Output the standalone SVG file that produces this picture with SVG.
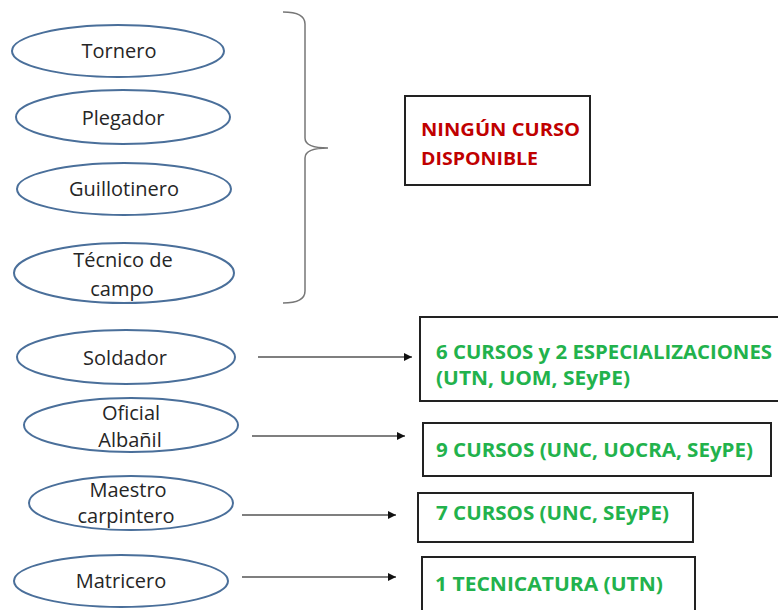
<svg xmlns="http://www.w3.org/2000/svg" width="778" height="610" viewBox="0 0 778 610">
  <defs>
    <marker id="arrow" viewBox="0 0 10 10" refX="10" refY="5" markerWidth="8" markerHeight="8" markerUnits="userSpaceOnUse" orient="auto">
      <path d="M0,0 L10,5 L0,10 z" fill="#111"/>
    </marker>
    <style>
      .job ellipse { fill: #fff; stroke: #4a6f9a; stroke-width: 2; }
      .job text { font-family: "Open Sans", "Liberation Sans", sans-serif; font-size: 20px; fill: #262626; text-anchor: middle; }
      .box rect { fill: #fff; stroke: #222; stroke-width: 2; }
      .box text { font-family: "Open Sans", "Liberation Sans", sans-serif; font-weight: bold; }
      .green text { fill: #22b24c; font-size: 19px; }
      .red text { fill: #c00000; font-size: 17px; }
      .conn line { stroke: #555; stroke-width: 1.3; marker-end: url(#arrow); }
      .brace { fill: none; stroke: #777; stroke-width: 1.5; }
    </style>
  </defs>
  <rect width="778" height="610" fill="#fff"/>

  <!-- trades without courses -->
  <g id="tornero" class="job">
    <ellipse cx="118" cy="51" rx="106" ry="26"/>
    <text x="119" y="58">Tornero</text>
  </g>
  <g id="plegador" class="job">
    <ellipse cx="123" cy="117" rx="107" ry="27"/>
    <text x="123" y="125">Plegador</text>
  </g>
  <g id="guillotinero" class="job">
    <ellipse cx="124" cy="189" rx="107" ry="26"/>
    <text x="124" y="196">Guillotinero</text>
  </g>
  <g id="tecnico" class="job">
    <ellipse cx="124" cy="273" rx="110" ry="30"/>
    <text x="123" y="267">Técnico de</text>
    <text x="122" y="296">campo</text>
  </g>

  <!-- brace grouping the first four trades -->
  <path class="brace" d="M283,12 Q305,12 305,24 L305,138 Q305,148 328,148 Q305,148 305,158 L305,291 Q305,303 283,303"/>

  <g id="ninguno" class="box red">
    <rect x="405" y="96" width="185" height="89"/>
    <text x="421" y="136" textLength="159" lengthAdjust="spacingAndGlyphs">NINGÚN CURSO</text>
    <text x="421" y="165" textLength="117" lengthAdjust="spacingAndGlyphs">DISPONIBLE</text>
  </g>

  <!-- trades with courses -->
  <g id="soldador" class="job">
    <ellipse cx="126" cy="357" rx="109" ry="27"/>
    <text x="125" y="365">Soldador</text>
  </g>
  <g id="albanil" class="job">
    <ellipse cx="131" cy="425" rx="107" ry="27"/>
    <text x="131" y="420">Oficial</text>
    <text x="130" y="447">Albañil</text>
  </g>
  <g id="carpintero" class="job">
    <ellipse cx="131" cy="503" rx="102" ry="27"/>
    <text x="128" y="497">Maestro</text>
    <text x="126" y="523">carpintero</text>
  </g>
  <g id="matricero" class="job">
    <ellipse cx="121" cy="581" rx="107" ry="26"/>
    <text x="121" y="588">Matricero</text>
  </g>

  <g id="cursos-soldador" class="box green">
    <rect x="420" y="317" width="360" height="84"/>
    <text x="436" y="359" textLength="336" lengthAdjust="spacingAndGlyphs">6 CURSOS y 2 ESPECIALIZACIONES</text>
    <text x="436" y="385" textLength="194" lengthAdjust="spacingAndGlyphs">(UTN, UOM, SEyPE)</text>
  </g>
  <g id="cursos-albanil" class="box green">
    <rect x="423" y="423" width="348" height="53"/>
    <text x="436" y="457" textLength="317" lengthAdjust="spacingAndGlyphs">9 CURSOS (UNC, UOCRA, SEyPE)</text>
  </g>
  <g id="cursos-carpintero" class="box green">
    <rect x="418" y="493" width="275" height="49"/>
    <text x="436" y="520" textLength="233" lengthAdjust="spacingAndGlyphs">7 CURSOS (UNC, SEyPE)</text>
  </g>
  <g id="cursos-matricero" class="box green">
    <rect x="422" y="557" width="273" height="60"/>
    <text x="435" y="591" textLength="228" lengthAdjust="spacingAndGlyphs">1 TECNICATURA (UTN)</text>
  </g>

  <!-- connectors -->
  <g id="connectors" class="conn">
    <line x1="258" y1="357" x2="412" y2="357"/>
    <line x1="252" y1="436" x2="405" y2="436"/>
    <line x1="242" y1="515" x2="396" y2="515"/>
    <line x1="242" y1="577" x2="396" y2="577"/>
  </g>
</svg>
